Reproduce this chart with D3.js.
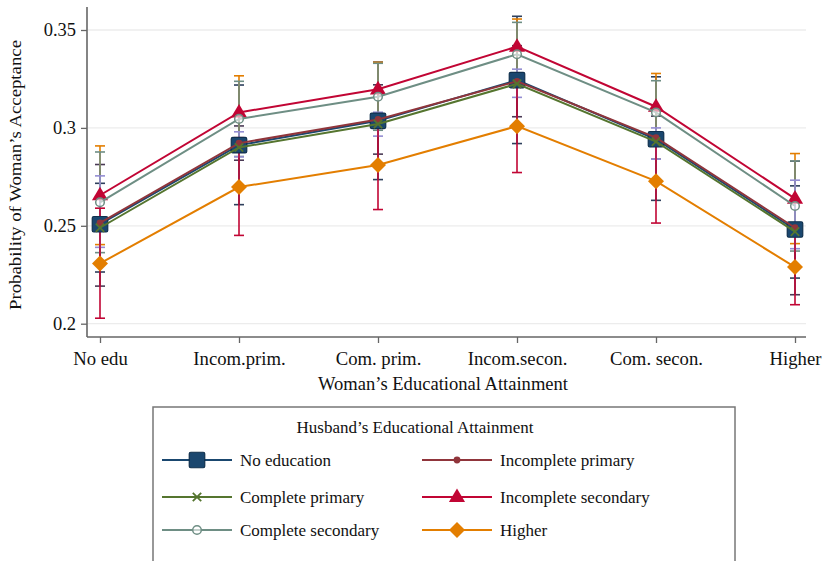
<!DOCTYPE html>
<html><head><meta charset="utf-8">
<script src="https://cdn.jsdelivr.net/npm/d3@7"></script>
<style>body{margin:0;background:#fff}svg{display:block}svg text{font-family:"Liberation Serif",Tinos,"Times New Roman","Nimbus Roman","DejaVu Serif",serif !important;fill:#111}</style>
</head><body><svg id="c" width="825" height="561"></svg>
<script>
const categories = ["No edu","Incom.prim.","Com. prim.","Incom.secon.","Com. secon.","Higher"];
const yTicks = [0.2,0.25,0.3,0.35];
const seriesNames = ["No education","Incomplete primary","Complete primary","Incomplete secondary","Complete secondary","Higher"];
const noEduVal = [0.2508,0.2912,0.3036,0.3244,0.2942,0.2481];
const noEduLo  = [0.2264,0.2608,0.2736,0.2920,0.2630,0.2233];
const noEduHi  = [0.2717,0.3219,0.3336,0.3570,0.3261,0.2704];
const incPrimVal = [0.2515,0.2922,0.3043,0.3238,0.2950,0.2490];
const incPrimLo  = [0.2192,0.2835,0.2866,0.3057,0.2840,0.2148];
const incPrimHi  = [0.2813,0.3010,0.3220,0.3420,0.3060,0.2830];
const compPrimVal = [0.2490,0.2900,0.3020,0.3225,0.2930,0.2470];
const compPrimLo  = [0.2390,0.2852,0.2958,0.3156,0.2840,0.2383];
const compPrimHi  = [0.2755,0.2980,0.3080,0.3300,0.3000,0.2733];
const incSecVal = [0.2656,0.3079,0.3197,0.3415,0.3108,0.2639];
const incSecLo  = [0.2404,0.2894,0.3059,0.3274,0.2938,0.2409];
const incSecHi  = [0.2908,0.3266,0.3335,0.3556,0.3278,0.2869];
const compSecVal = [0.2620,0.3046,0.3159,0.3376,0.3079,0.2601];
const compSecLo  = [0.2363,0.2854,0.2988,0.3213,0.2917,0.2371];
const compSecHi  = [0.2877,0.3238,0.3330,0.3539,0.3241,0.2831];
const higherVal = [0.2308,0.2698,0.2811,0.3009,0.2728,0.2289];
const higherLo  = [0.2028,0.2451,0.2583,0.2772,0.2514,0.2097];
const higherHi  = [0.2590,0.2950,0.3040,0.3246,0.2940,0.2480];

const FONT = '"Liberation Serif", Tinos, "Times New Roman", "DejaVu Serif", serif';
const series = [
 {name:seriesNames[0], v:noEduVal, lo:noEduLo, hi:noEduHi, color:"#1a476f", ci:"#2d3f5c", sym:"square"},
 {name:seriesNames[1], v:incPrimVal, lo:incPrimLo, hi:incPrimHi, color:"#90353b", ci:"#4a3a55", sym:"dot"},
 {name:seriesNames[2], v:compPrimVal, lo:compPrimLo, hi:compPrimHi, color:"#55752f", ci:"#938dd2", sym:"x"},
 {name:seriesNames[3], v:incSecVal, lo:incSecLo, hi:incSecHi, color:"#c10534", ci:"#e37e00", sym:"triangle"},
 {name:seriesNames[4], v:compSecVal, lo:compSecLo, hi:compSecHi, color:"#6e8e84", ci:"#6e8e84", sym:"circle"},
 {name:seriesNames[5], v:higherVal, lo:higherLo, hi:higherHi, color:"#e37e00", ci:"#c10534", sym:"diamond"}
];
const ciOrder = [0,1,3,4,2,5];

const svg = d3.select("#c");
const x = d3.scalePoint().domain(categories).range([100,795]);
const y = d3.scaleLinear().domain([0.2,0.35]).range([323.7,30]);
const axX0 = 87, axY0 = 337;

svg.append("g").selectAll("line").data(yTicks).join("line")
 .attr("x1",axX0+1).attr("x2",806).attr("y1",d=>y(d)).attr("y2",d=>y(d))
 .attr("stroke","#ececec").attr("stroke-width",1.3);

const yAxis = d3.axisLeft(y).tickValues(yTicks).tickSize(6).tickPadding(5).tickFormat(d=>String(d));
const gy = svg.append("g").attr("transform",`translate(${axX0},0)`).call(yAxis).attr("font-family",FONT).attr("font-size",18.5);
gy.select(".domain").attr("d",`M0,7V${axY0}`).attr("stroke","#666").attr("stroke-width",1.6);
gy.selectAll(".tick line").attr("stroke","#666").attr("stroke-width",1.3);
gy.selectAll(".tick text").attr("fill","#111");

const xAxis = d3.axisBottom(x).tickSize(6).tickPadding(9);
const gx = svg.append("g").attr("transform",`translate(0,${axY0})`).call(xAxis).attr("font-family",FONT).attr("font-size",18.7);
gx.select(".domain").attr("d",`M${axX0},0H806`).attr("stroke","#666").attr("stroke-width",1.6);
gx.selectAll(".tick line").attr("stroke","#666").attr("stroke-width",1.3);
gx.selectAll(".tick text").attr("fill","#111");

svg.append("text").attr("transform","translate(21,175) rotate(-90)").attr("text-anchor","middle")
 .attr("font-family",FONT).attr("font-size",17.5).attr("textLength",270).attr("lengthAdjust","spacingAndGlyphs")
 .text("Probability of Woman’s Acceptance");
svg.append("text").attr("x",443).attr("y",390).attr("text-anchor","middle")
 .attr("font-family",FONT).attr("font-size",18).attr("textLength",250).attr("lengthAdjust","spacingAndGlyphs")
 .text("Woman’s Educational Attainment");

const capW = 5;
ciOrder.forEach(i=>{
  const s = series[i];
  const g = svg.append("g").attr("stroke",s.ci).attr("stroke-width",1.6).attr("fill","none");
  categories.forEach((c,j)=>{
    const cx = x(c);
    g.append("line").attr("x1",cx).attr("x2",cx).attr("y1",y(s.lo[j])).attr("y2",y(s.hi[j]));
    g.append("line").attr("x1",cx-capW).attr("x2",cx+capW).attr("y1",y(s.lo[j])).attr("y2",y(s.lo[j]));
    g.append("line").attr("x1",cx-capW).attr("x2",cx+capW).attr("y1",y(s.hi[j])).attr("y2",y(s.hi[j]));
  });
});

function drawMarker(g, sym, cx, cy, color){
  if(sym==="square"){
    const s=15.5;
    g.append("rect").attr("x",cx-s/2).attr("y",cy-s/2).attr("width",s).attr("height",s).attr("rx",1.5)
     .attr("fill",color).attr("stroke","#10304d").attr("stroke-width",1.2);
  } else if(sym==="dot"){
    g.append("circle").attr("cx",cx).attr("cy",cy).attr("r",3.4).attr("fill",color);
  } else if(sym==="x"){
    const s=4.2;
    g.append("path").attr("d",`M${cx-s},${cy-s}L${cx+s},${cy+s}M${cx-s},${cy+s}L${cx+s},${cy-s}`)
     .attr("stroke",color).attr("stroke-width",1.8).attr("fill","none");
  } else if(sym==="triangle"){
    const s=8.5;
    g.append("path").attr("d",`M${cx},${cy-s}L${cx+s*0.95},${cy+s*0.6}L${cx-s*0.95},${cy+s*0.6}Z`).attr("fill",color);
  } else if(sym==="circle"){
    g.append("circle").attr("cx",cx).attr("cy",cy).attr("r",4.3).attr("fill","#fff").attr("fill-opacity",0.6)
     .attr("stroke",color).attr("stroke-width",1.5);
  } else if(sym==="diamond"){
    const s=8;
    g.append("path").attr("d",`M${cx},${cy-s}L${cx+s},${cy}L${cx},${cy+s}L${cx-s},${cy}Z`).attr("fill",color);
  }
}

const line = d3.line().x((d,j)=>x(categories[j])).y(d=>y(d));
series.forEach(s=>{
  const g = svg.append("g");
  g.append("path").datum(s.v).attr("d",line).attr("fill","none").attr("stroke",s.color).attr("stroke-width",2);
  s.v.forEach((v,j)=>drawMarker(g,s.sym,x(categories[j]),y(v),s.color));
});

const lg = svg.append("g").attr("font-family",FONT).attr("font-size",17);
lg.append("rect").attr("x",153).attr("y",407).attr("width",582).attr("height",160)
 .attr("fill","#fff").attr("stroke","#777").attr("stroke-width",1.5);
lg.append("text").attr("x",415).attr("y",433).attr("text-anchor","middle")
 .text("Husband’s Educational Attainment");
const rowsY = [460,497,530];
const colX = [162,422];
series.forEach((s,i)=>{
  const col = i%2, row = Math.floor(i/2);
  const x0 = colX[col], yy = rowsY[row];
  lg.append("line").attr("x1",x0).attr("x2",x0+70).attr("y1",yy).attr("y2",yy).attr("stroke",s.color).attr("stroke-width",2);
  drawMarker(lg,s.sym,x0+35,yy,s.color);
  lg.append("text").attr("x",x0+78).attr("y",yy+5.5).text(s.name);
});
</script></body></html>
